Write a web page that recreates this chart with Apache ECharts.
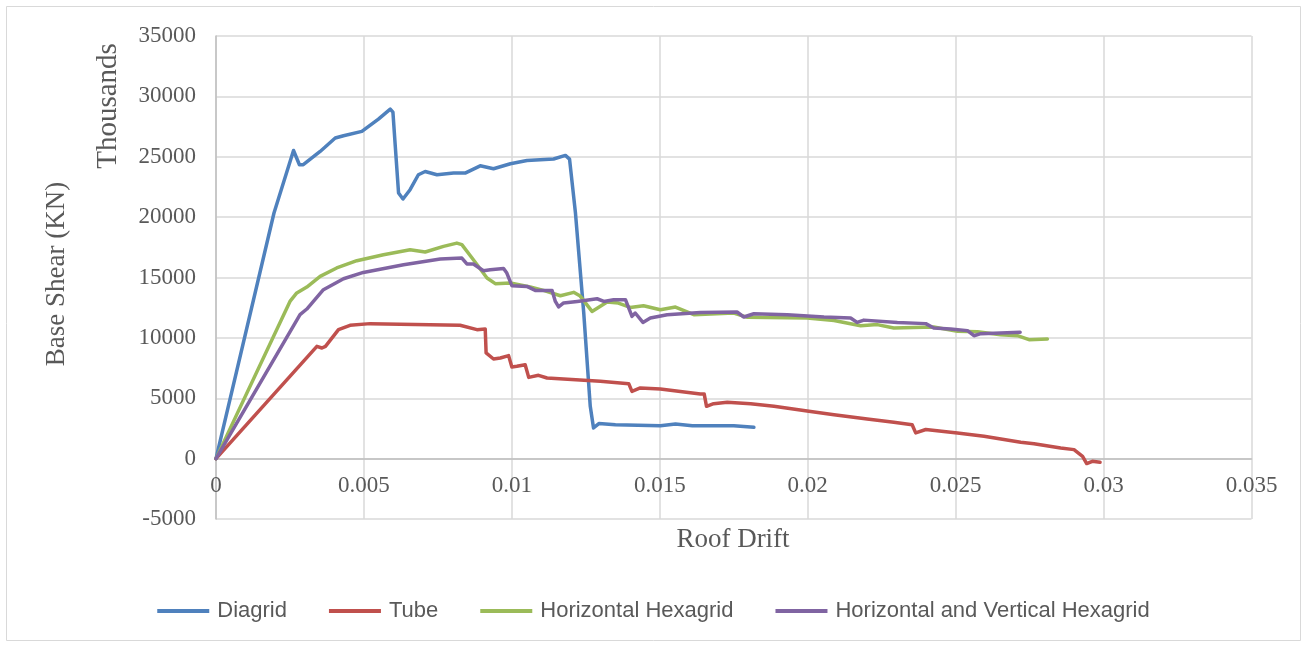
<!DOCTYPE html>
<html>
<head>
<meta charset="utf-8">
<script src="https://cdn.jsdelivr.net/npm/echarts@6/dist/echarts.min.js"></script>
<style>html,body{margin:0;padding:0;background:#fff}#c{width:1307px;height:646px}</style>
</head>
<body>
<div id="c"></div>
<script>
const seriesNames = ['Diagrid', 'Tube', 'Horizontal Hexagrid', 'Horizontal and Vertical Hexagrid'];
const xTicks = ['0', '0.005', '0.01', '0.015', '0.02', '0.025', '0.03', '0.035'];

const diagridDrift = [0, 0.00196, 0.00262, 0.00282, 0.00295, 0.00352, 0.00403, 0.00431, 0.00493, 0.00549, 0.00589, 0.00598, 0.00606, 0.00617, 0.00632, 0.00656, 0.00684, 0.00707, 0.00747, 0.00803, 0.00842, 0.00893, 0.00938, 0.00995, 0.01051, 0.01141, 0.01181, 0.01195, 0.01215, 0.01243, 0.01265, 0.01276, 0.01294, 0.0135, 0.01502, 0.01553, 0.0161, 0.0175, 0.01818];
const diagridShear = [0, 20340, 25520, 24340, 24340, 25440, 26550, 26740, 27100, 28120, 28950, 28700, 25850, 22000, 21500, 22270, 23510, 23780, 23510, 23650, 23650, 24250, 24010, 24420, 24690, 24810, 25110, 24800, 20340, 12060, 4330, 2540, 2900, 2800, 2730, 2870, 2730, 2730, 2590];

const tubeDrift = [0, 0.00341, 0.00358, 0.0037, 0.00414, 0.00453, 0.00521, 0.00825, 0.00882, 0.0091, 0.00913, 0.00938, 0.00961, 0.00989, 0.01, 0.01017, 0.01045, 0.01057, 0.0109, 0.01119, 0.01299, 0.01395, 0.01406, 0.01434, 0.01502, 0.01637, 0.0165, 0.01658, 0.01682, 0.01728, 0.01807, 0.01886, 0.02004, 0.02089, 0.02201, 0.02291, 0.02353, 0.02365, 0.02399, 0.02506, 0.02596, 0.0272, 0.02765, 0.02855, 0.029, 0.02929, 0.02943, 0.02962, 0.02988];
const tubeShear = [0, 9300, 9160, 9300, 10680, 11040, 11180, 11040, 10680, 10740, 8750, 8250, 8330, 8530, 7590, 7650, 7780, 6730, 6900, 6680, 6400, 6210, 5570, 5850, 5770, 5360, 5360, 4330, 4550, 4660, 4550, 4330, 3920, 3640, 3280, 3010, 2810, 2130, 2410, 2130, 1850, 1350, 1240, 880, 745, 190, -410, -220, -300];

const hHexDrift = [0, 0.0025, 0.00273, 0.00307, 0.00352, 0.00408, 0.00476, 0.00566, 0.00656, 0.00707, 0.00769, 0.00814, 0.00831, 0.0087, 0.00916, 0.00944, 0.00995, 0.01062, 0.01107, 0.01164, 0.01209, 0.01231, 0.01271, 0.01322, 0.0136, 0.014, 0.01445, 0.01502, 0.01553, 0.01615, 0.0175, 0.01796, 0.01998, 0.02089, 0.02179, 0.02235, 0.02291, 0.02426, 0.02506, 0.02574, 0.02652, 0.02709, 0.02748, 0.0281];
const hHexShear = [0, 13020, 13720, 14210, 15090, 15790, 16390, 16890, 17300, 17110, 17580, 17850, 17720, 16470, 14960, 14490, 14540, 14210, 13930, 13490, 13770, 13460, 12190, 12970, 12880, 12520, 12660, 12330, 12550, 11920, 12060, 11700, 11650, 11440, 11010, 11100, 10820, 10900, 10540, 10500, 10260, 10180, 9850, 9910];

const hvHexDrift = [0, 0.00284, 0.00307, 0.00363, 0.00431, 0.00498, 0.00634, 0.00758, 0.00831, 0.00848, 0.0087, 0.00904, 0.00927, 0.00972, 0.00983, 0.01, 0.01051, 0.01079, 0.01136, 0.01147, 0.01158, 0.01175, 0.01221, 0.01288, 0.01311, 0.01344, 0.01384, 0.01406, 0.01417, 0.01443, 0.01468, 0.01525, 0.01637, 0.01761, 0.01784, 0.01818, 0.01931, 0.02055, 0.02145, 0.02167, 0.0219, 0.02303, 0.02399, 0.02426, 0.02483, 0.0254, 0.02562, 0.02585, 0.02718];
const hvHexShear = [0, 11920, 12390, 13990, 14900, 15420, 16060, 16530, 16610, 16120, 16120, 15560, 15650, 15750, 15370, 14320, 14260, 13930, 13930, 13020, 12560, 12890, 13020, 13240, 13020, 13160, 13160, 11780, 12060, 11280, 11650, 11920, 12110, 12140, 11730, 12000, 11920, 11730, 11650, 11280, 11470, 11280, 11180, 10820, 10740, 10600, 10180, 10350, 10460];

const colors = ['#4F81BD', '#C0504D', '#9BBB59', '#8064A2'];
const zip = (a, b) => a.map((v, i) => [v, b[i]]);
const allData = [zip(diagridDrift, diagridShear), zip(tubeDrift, tubeShear), zip(hHexDrift, hHexShear), zip(hvHexDrift, hvHexShear)];

const chart = echarts.init(document.getElementById('c'), null, {renderer: 'canvas'});
const serif = '"Liberation Serif", "Times New Roman", serif';
const gridTop = 36, gridBottom = 127, plotH = 646 - gridTop - gridBottom;
const yMin = -5000, yMax = 35000;
// shift the x axis up so it sits on the zero line (Excel style)
const zeroOffset = -plotH * (0 - yMin) / (yMax - yMin);
chart.setOption({
  animation: false,
  backgroundColor: '#fff',
  color: colors,
  grid: {left: 216, right: 55.5, top: gridTop, bottom: gridBottom, containLabel: false},
  xAxis: {
    type: 'value', min: 0, max: 0.035, interval: 0.005, offset: zeroOffset,
    axisLine: {onZero: false, lineStyle: {color: '#bfbfbf', width: 1.5}},
    axisTick: {show: false},
    axisLabel: {fontFamily: serif, fontSize: 23, color: '#595959', margin: 16,
      formatter: (v) => xTicks[Math.round(v / 0.005)]},
    splitLine: {show: true, lineStyle: {color: '#d9d9d9', width: 1.5}}
  },
  yAxis: {
    type: 'value', min: yMin, max: yMax, interval: 5000,
    axisLine: {show: true, lineStyle: {color: '#bfbfbf', width: 1.5}},
    axisTick: {show: false},
    axisLabel: {fontFamily: serif, fontSize: 23, color: '#595959', margin: 20, formatter: (v) => String(v)},
    splitLine: {show: true, lineStyle: {color: '#d9d9d9', width: 1.5}}
  },
  legend: {
    data: seriesNames, left: 'center', top: 595, itemWidth: 52, itemHeight: 4, itemGap: 42, icon: 'rect',
    textStyle: {fontFamily: '"Liberation Sans", Arial, sans-serif', fontSize: 22, color: '#595959', padding: [0, 0, 0, 3]}
  },
  graphic: [
    {type: 'rect', shape: {x: 6.5, y: 6.5, width: 1294, height: 634}, style: {fill: null, stroke: '#d9d9d9', lineWidth: 1}, silent: true},
    {type: 'text', x: 733, y: 540, style: {text: 'Roof Drift', font: '27px ' + serif, fill: '#595959', textAlign: 'center', textVerticalAlign: 'middle'}},
    {type: 'text', x: 57, y: 274, rotation: Math.PI / 2, style: {text: 'Base Shear (KN)', font: '27px ' + serif, fill: '#595959', textAlign: 'center', textVerticalAlign: 'middle'}},
    {type: 'text', x: 108, y: 106, rotation: Math.PI / 2, style: {text: 'Thousands', font: '29px ' + serif, fill: '#595959', textAlign: 'center', textVerticalAlign: 'middle'}}
  ],
  series: seriesNames.map((n, i) => ({
    name: n, type: 'line', data: allData[i], showSymbol: false, symbol: 'none',
    lineStyle: {width: 3.5, color: colors[i], join: 'round', cap: 'round'}, itemStyle: {color: colors[i]}
  }))
});
</script>
</body>
</html>
